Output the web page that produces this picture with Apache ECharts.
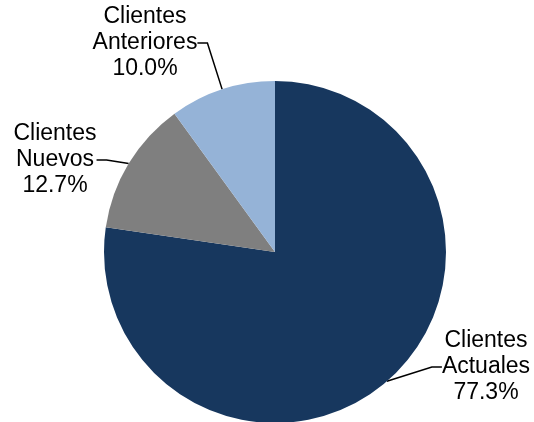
<!DOCTYPE html>
<html>
<head>
<meta charset="utf-8">
<script src="https://cdn.jsdelivr.net/npm/echarts@6/dist/echarts.min.js"></script>
<style>
  html, body { margin: 0; padding: 0; background: #fff; }
  #chart { width: 534px; height: 422px; }
</style>
</head>
<body>
<div id="chart"></div>
<script>
// datos del gráfico
const categories = ['Clientes\nActuales', 'Clientes\nNuevos', 'Clientes\nAnteriores'];
const values = [77.3, 12.7, 10.0];
const colors = ['#17375E', '#7F7F7F', '#95B3D7'];
// centro de cada etiqueta (px)
const labelPos = [[486, 367], [55, 160], [145, 43]];

const chart = echarts.init(document.getElementById('chart'));

const option = {
  animation: false,
  color: colors,
  series: [{
    type: 'pie',
    center: [275, 252],
    radius: 171,
    startAngle: 90,
    clockwise: true,
    data: categories.map((name, i) => ({ name: name, value: values[i] })),
    itemStyle: { borderWidth: 0 },
    label: {
      show: true,
      position: 'outside',
      color: '#000',
      fontFamily: 'Liberation Sans, Arial, sans-serif',
      fontSize: 23,
      lineHeight: 26,
      align: 'center',
      formatter: p => p.name + '\n' + p.value.toFixed(1) + '%'
    },
    labelLine: {
      show: true,
      length: 15,
      length2: 10,
      lineStyle: { color: '#000', width: 1.5 }
    },
    labelLayout: function (params) {
      const pos = labelPos[params.dataIndex];
      return {
        x: pos[0],
        y: pos[1],
        align: 'center',
        verticalAlign: 'middle'
      };
    }
  }]
};

chart.setOption(option);
</script>
</body>
</html>
